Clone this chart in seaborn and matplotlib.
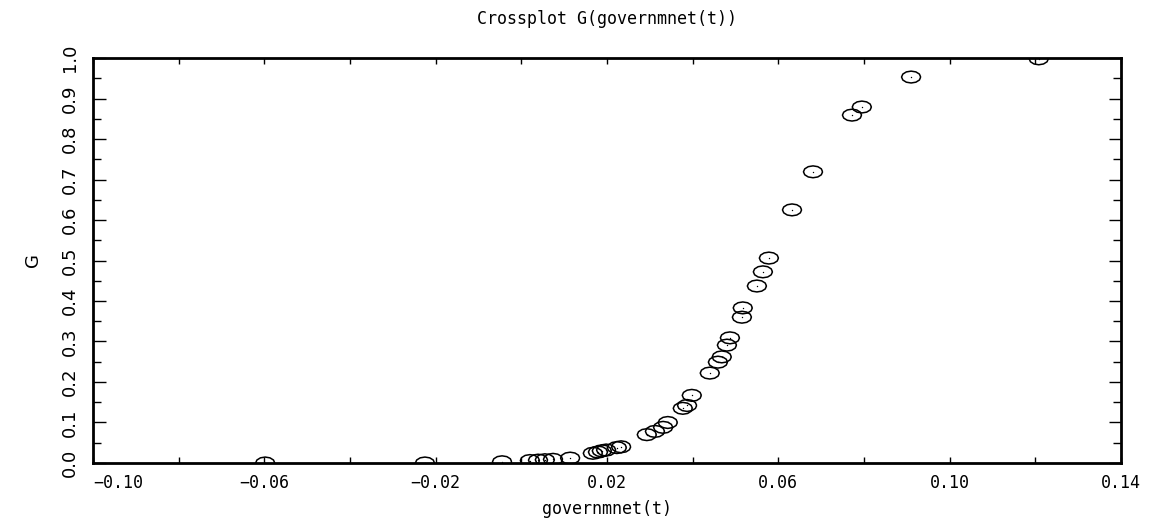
import matplotlib
matplotlib.use("Agg")
import matplotlib.pyplot as plt
import seaborn as sns
import numpy as np
import pandas as pd
from matplotlib.path import Path
from matplotlib.ticker import MultipleLocator

gov_net = [-0.0598, -0.0225, -0.0045, 0.0020, 0.0039, 0.0055, 0.0074, 0.0114,
           0.0167, 0.0179, 0.0188, 0.0198, 0.0223, 0.0233, 0.0293, 0.0312,
           0.0331, 0.0342, 0.0377, 0.0387, 0.0398, 0.0440, 0.0459, 0.0468,
           0.0480, 0.0487, 0.0515, 0.0517, 0.0550, 0.0564, 0.0578, 0.0632,
           0.0681, 0.0772, 0.0795, 0.0910, 0.1208]
g_vals = [0.000, 0.000, 0.003, 0.006, 0.007, 0.008, 0.009, 0.012,
          0.024, 0.027, 0.030, 0.032, 0.038, 0.040, 0.070, 0.078,
          0.088, 0.100, 0.135, 0.142, 0.167, 0.222, 0.249, 0.262,
          0.291, 0.309, 0.360, 0.383, 0.437, 0.472, 0.506, 0.625,
          0.719, 0.859, 0.879, 0.953, 0.998]
x_ticks = [-0.10, -0.06, -0.02, 0.02, 0.06, 0.10, 0.14]
y_ticks = [0.0, 0.1, 0.2, 0.3, 0.4, 0.5, 0.6, 0.7, 0.8, 0.9, 1.0]

df = pd.DataFrame({"governmnet(t)": gov_net, "G": g_vals})

sns.set_style("ticks")
plt.rcParams["font.family"] = ["DejaVu Sans"]
for key in ["text.color", "axes.labelcolor", "xtick.color", "ytick.color"]:
    plt.rcParams[key] = "black"

# flat, slightly faceted ellipse like the old plotting package
theta = np.linspace(0, 2 * np.pi, 13)
ellipse = Path(np.column_stack([np.cos(theta), 0.62 * np.sin(theta)]))

fig = plt.figure(figsize=(11.54, 5.18), dpi=100)
ax = fig.add_axes([0.0806, 0.1062, 0.8908, 0.7818])

sns.scatterplot(data=df, x="governmnet(t)", y="G", ax=ax, marker=ellipse,
                s=190, facecolor="none", edgecolor="black", linewidth=1.1,
                legend=False)
sns.scatterplot(data=df, x="governmnet(t)", y="G", ax=ax, marker=".",
                s=4, color="black", linewidth=0, legend=False)

ax.set_xlim(-0.10, 0.14)
ax.set_ylim(0.0, 1.0)
ax.set_xticks(x_ticks)
ax.set_xticklabels([f"{t:.2f}".replace("-", "\u2212") for t in x_ticks])
ax.xaxis.set_minor_locator(MultipleLocator(0.02))
ax.set_yticks(y_ticks)
ax.set_yticklabels([f"{t:.1f}" for t in y_ticks], rotation=90, va="center")
ax.yaxis.set_minor_locator(MultipleLocator(0.05))

ax.tick_params(axis="x", which="both", direction="in", length=4, width=1,
               top=True, bottom=True, pad=8, labelsize=12)
ax.tick_params(axis="y", which="major", direction="in", length=9, width=1,
               left=True, right=True, pad=10, labelsize=13)
ax.tick_params(axis="y", which="minor", direction="in", length=6, width=1,
               left=True, right=True)
ax.get_xticklabels()[0].set_ha("left")
for lab in ax.get_xticklabels():
    lab.set_family("DejaVu Sans Mono")

for sp in ax.spines.values():
    sp.set_visible(True)
    sp.set_linewidth(2)
    sp.set_color("black")

ax.set_xlabel("governmnet(t)", fontsize=12, family="DejaVu Sans Mono", labelpad=6)
ax.set_ylabel("G", fontsize=13, labelpad=14)
fig.text(0.526, 0.963, "Crossplot G(governmnet(t))", ha="center", va="center",
         fontsize=12, family="DejaVu Sans Mono")

fig.savefig("out.png", dpi=100, facecolor="white")
